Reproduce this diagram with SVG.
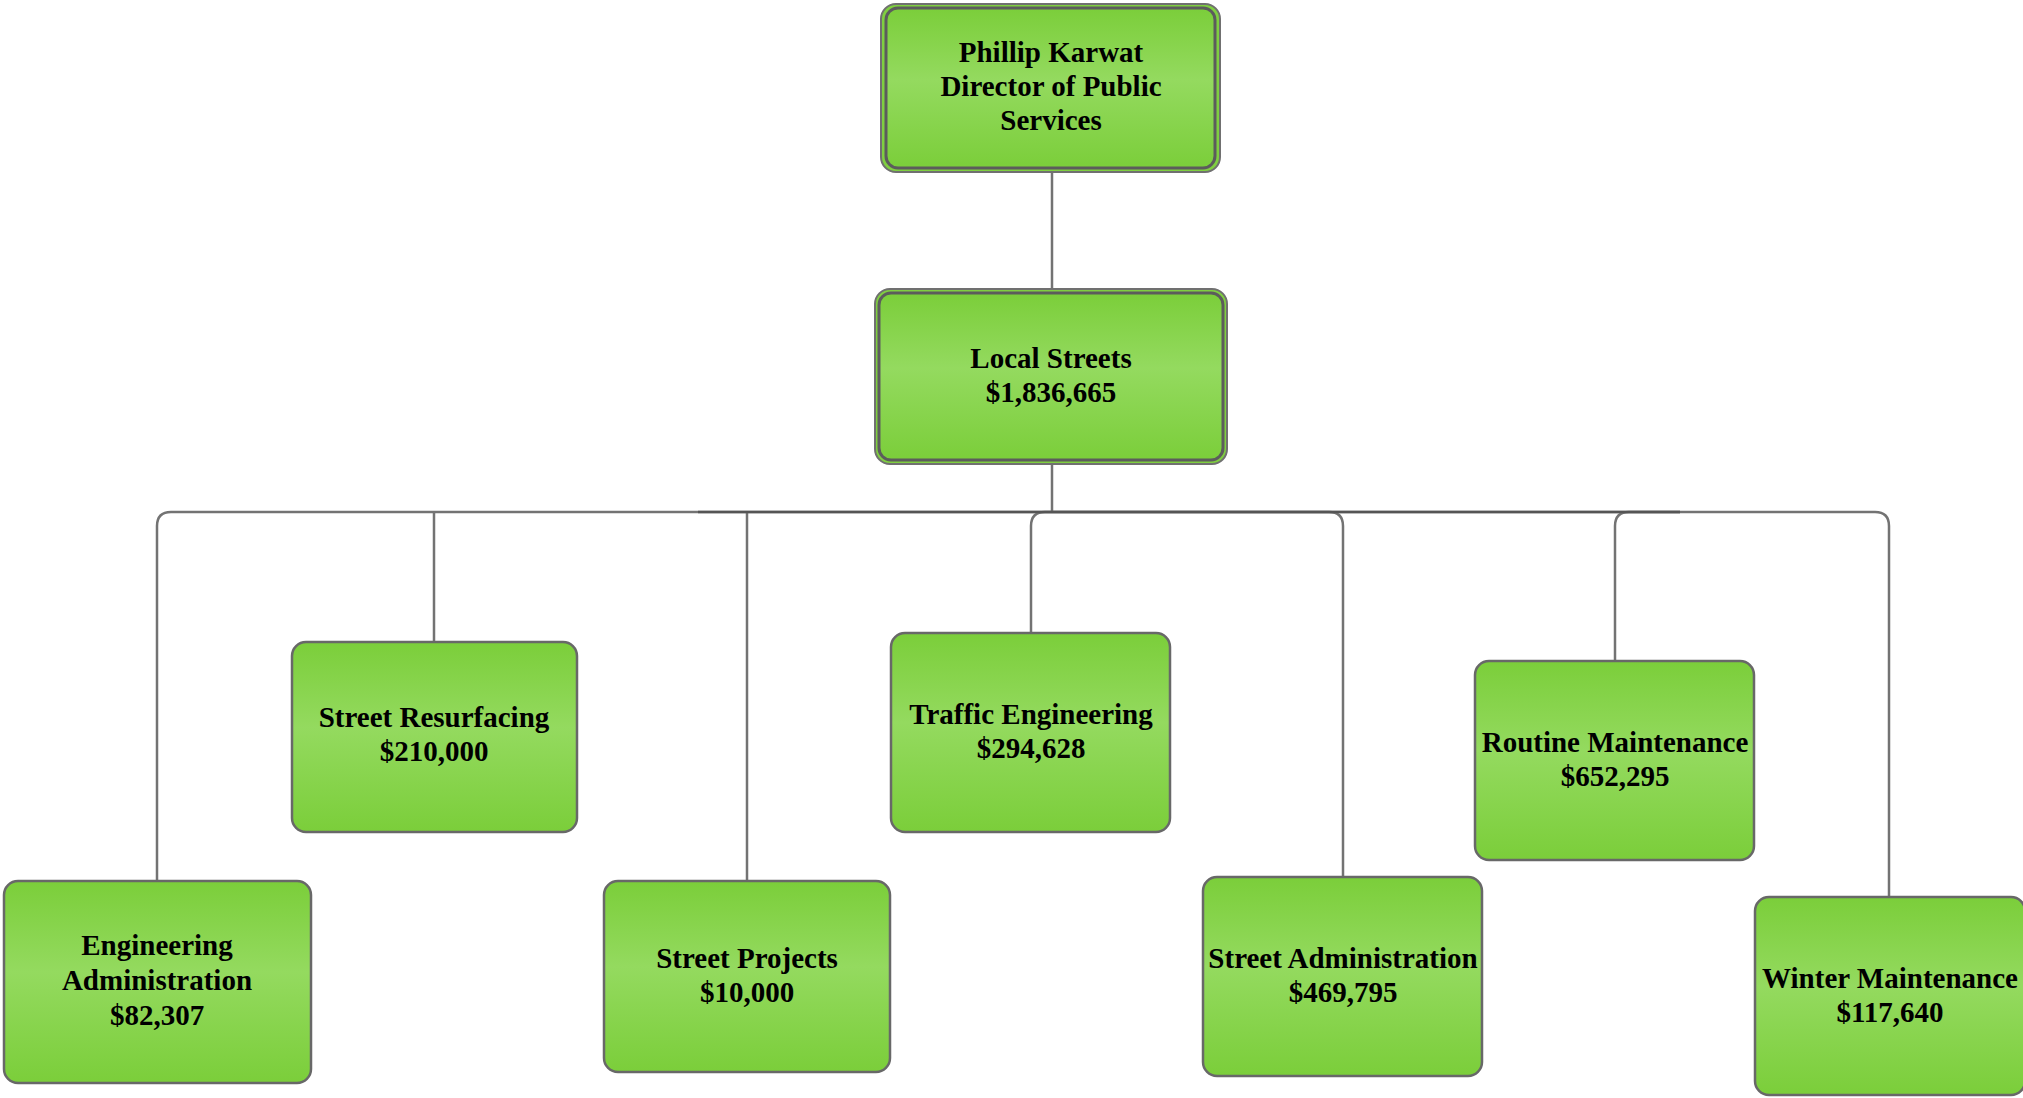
<svg xmlns="http://www.w3.org/2000/svg" width="2023" height="1098" viewBox="0 0 2023 1098">
  <defs>
    <linearGradient id="greenFill" x1="0" y1="0" x2="0" y2="1">
      <stop offset="0" stop-color="#7bce3a"/>
      <stop offset="0.45" stop-color="#94da5f"/>
      <stop offset="1" stop-color="#7bce3a"/>
    </linearGradient>
    <style>
      .box { fill: url(#greenFill); stroke: #686868; stroke-width: 2.5; }
      .outer { fill: #7fcf40; stroke: #707070; stroke-width: 2; }
      .inner { fill: url(#greenFill); stroke: #5c5c5c; stroke-width: 3; }
      .label { font-family: "Liberation Serif", "Times New Roman", serif; font-weight: bold; font-size: 29px; fill: #000; text-anchor: middle; }
      .link { fill: none; stroke: #737373; stroke-width: 2.5; }
      .link-dark { fill: none; stroke: #555555; stroke-width: 2.5; }
    </style>
  </defs>
  <rect width="2023" height="1098" fill="#ffffff"/>

  <!-- connectors -->
  <g id="connectors">
    <path class="link" d="M1052 173 V288"/>
    <path class="link" d="M1052 465 V512"/>
    <path class="link" d="M1052 512 H171 Q157 512 157 526 V881"/>
    <path class="link" d="M434 512 V642"/>
    <path class="link" d="M747 512 V881"/>
    <path class="link" d="M1052 512 H1045 Q1031 512 1031 526 V633"/>
    <path class="link" d="M1052 512 H1329 Q1343 512 1343 526 V877"/>
    <path class="link" d="M1680 512 H1629 Q1615 512 1615 526 V661"/>
    <path class="link" d="M1052 512 H1875 Q1889 512 1889 526 V897"/>
    <path class="link-dark" d="M698 512 H1680"/>
  </g>

  <!-- director -->
  <g id="node-director">
    <rect class="outer" x="881" y="4" width="339" height="168" rx="15"/>
    <rect class="inner" x="886" y="8" width="329" height="160" rx="12"/>
    <text class="label" x="1051" y="62">Phillip Karwat</text>
    <text class="label" x="1051" y="96">Director of Public</text>
    <text class="label" x="1051" y="130">Services</text>
  </g>

  <!-- local streets -->
  <g id="node-local-streets">
    <rect class="outer" x="875" y="289" width="352" height="175" rx="15"/>
    <rect class="inner" x="879" y="293" width="344" height="167" rx="12"/>
    <text class="label" x="1051" y="368">Local Streets</text>
    <text class="label" x="1051" y="402">$1,836,665</text>
  </g>

  <g id="node-engineering-admin">
    <rect class="box" x="4" y="881" width="307" height="202" rx="14"/>
    <text class="label" x="157" y="955">Engineering</text>
    <text class="label" x="157" y="990">Administration</text>
    <text class="label" x="157" y="1025">$82,307</text>
  </g>

  <g id="node-street-resurfacing">
    <rect class="box" x="292" y="642" width="285" height="190" rx="14"/>
    <text class="label" x="434" y="727">Street Resurfacing</text>
    <text class="label" x="434" y="761">$210,000</text>
  </g>

  <g id="node-street-projects">
    <rect class="box" x="604" y="881" width="286" height="191" rx="14"/>
    <text class="label" x="747" y="968">Street Projects</text>
    <text class="label" x="747" y="1002">$10,000</text>
  </g>

  <g id="node-traffic-engineering">
    <rect class="box" x="891" y="633" width="279" height="199" rx="14"/>
    <text class="label" x="1031" y="724">Traffic Engineering</text>
    <text class="label" x="1031" y="758">$294,628</text>
  </g>

  <g id="node-street-admin">
    <rect class="box" x="1203" y="877" width="279" height="199" rx="14"/>
    <text class="label" x="1343" y="968">Street Administration</text>
    <text class="label" x="1343" y="1002">$469,795</text>
  </g>

  <g id="node-routine-maintenance">
    <rect class="box" x="1475" y="661" width="279" height="199" rx="14"/>
    <text class="label" x="1615" y="752">Routine Maintenance</text>
    <text class="label" x="1615" y="786">$652,295</text>
  </g>

  <g id="node-winter-maintenance">
    <rect class="box" x="1755" y="897" width="270" height="198" rx="14"/>
    <text class="label" x="1890" y="988">Winter Maintenance</text>
    <text class="label" x="1890" y="1022">$117,640</text>
  </g>
</svg>
